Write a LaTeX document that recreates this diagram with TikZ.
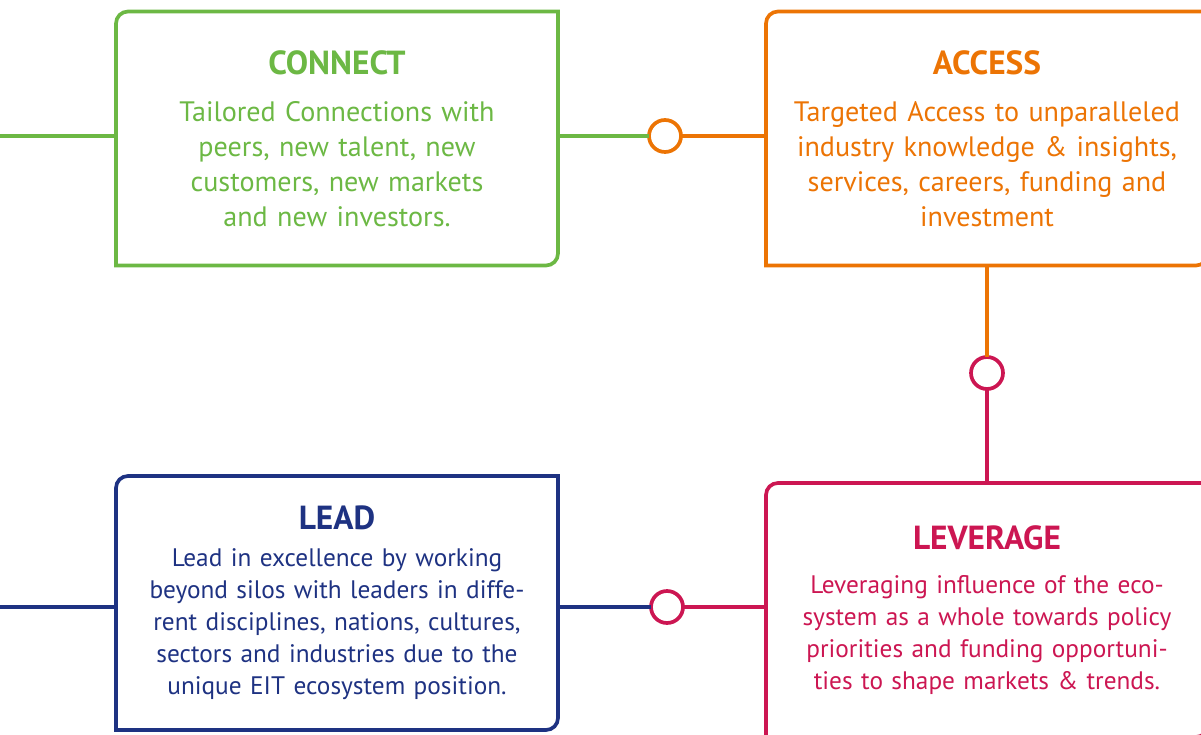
\documentclass[tikz,border=0pt]{standalone}
\usepackage{fontspec}
\setmainfont{PT Sans}
\usetikzlibrary{positioning}
\definecolor{cgreen}{RGB}{108,184,68}
\definecolor{corange}{RGB}{236,116,4}
\definecolor{ccrimson}{RGB}{204,22,82}
\definecolor{cnavy}{RGB}{30,50,130}
\newcommand{\boxtitle}[2]{{\fontsize{19}{22}\selectfont\bfseries #1}\\[#2]}

\begin{document}
\begin{tikzpicture}[line width=2.1pt, every node/.style={inner sep=0pt, outer sep=0pt},
	box/.style={minimum width=8.84cm, minimum height=5.08cm, text width=8.4cm, align=center},
	upper/.style={box, font=\fontsize{16}{19.9}\selectfont},
	lower/.style={box, font=\fontsize{14.4}{18.2}\selectfont},
	joint/.style={circle, draw, fill=white, minimum size=0.64cm}]
	\useasboundingbox (0,0) rectangle (24.02,-14.7);
	%Connect
	\node [upper, text=cgreen] (connect) at (6.74,-2.77) {\boxtitle{CONNECT}{7pt}Tailored Connections with\\peers, new talent, new\\customers, new markets\\and new investors.};
	\draw[cgreen] (connect.south west) [rounded corners=0.24cm] -- (connect.north west) [sharp corners] -- (connect.north east) [rounded corners=0.24cm] -- (connect.south east) [sharp corners] -- cycle;
	%Access
	\node [upper, text=corange] (access) at (19.74,-2.77) {\boxtitle{ACCESS}{7pt}Targeted Access to unparalleled\\industry knowledge \& insights,\\services, careers, funding and\\investment};
	\draw[corange] (access.south west) [rounded corners=0.24cm] -- (access.north west) [sharp corners] -- (access.north east) [rounded corners=0.24cm] -- (access.south east) [sharp corners] -- cycle;
	%Lead
	\node [lower, text=cnavy] (lead) at (6.74,-12.06) {\boxtitle{LEAD}{3pt}Lead in excellence by working\\beyond silos with leaders in diffe-\\rent disciplines, nations, cultures,\\sectors and industries due to the\\unique EIT ecosystem position.};
	\draw[cnavy] (lead.south west) [rounded corners=0.24cm] -- (lead.north west) [sharp corners] -- (lead.north east) [rounded corners=0.24cm] -- (lead.south east) [sharp corners] -- cycle;
	%Leverage
	\node [lower, text=ccrimson] (leverage) at (19.74,-12.2) {\boxtitle{LEVERAGE}{7pt}Leveraging influence of the eco-\\system as a whole towards policy\\priorities and funding opportuni-\\ties to shape markets \& trends.};
	\draw[ccrimson] (leverage.south west) [rounded corners=0.24cm] -- (leverage.north west) [sharp corners] -- (leverage.north east) [rounded corners=0.24cm] -- (leverage.south east) [sharp corners] -- cycle;
	%Joints
	\node [joint, draw=corange] (j1) at (13.3,-2.72) {};
	\node [joint, draw=ccrimson] (j2) at (19.74,-7.46) {};
	\node [joint, draw=ccrimson] (j3) at (13.34,-12.14) {};
	%Free ends
	\coordinate (cin) at (0,-2.72);
	\coordinate (lin) at (0,-12.14);
	%Links
	\draw[cgreen] (cin) -- (cin -| connect.west);
	\draw[cgreen] (connect.east |- j1) -- (j1);
	\draw[corange] (j1) -- (j1 -| access.west);
	\draw[corange] (access.south) -- (j2);
	\draw[ccrimson] (j2) -- (leverage.north);
	\draw[cnavy] (lin) -- (lin -| lead.west);
	\draw[cnavy] (lead.east |- j3) -- (j3);
	\draw[ccrimson] (j3) -- (j3 -| leverage.west);
\end{tikzpicture}
\end{document}
